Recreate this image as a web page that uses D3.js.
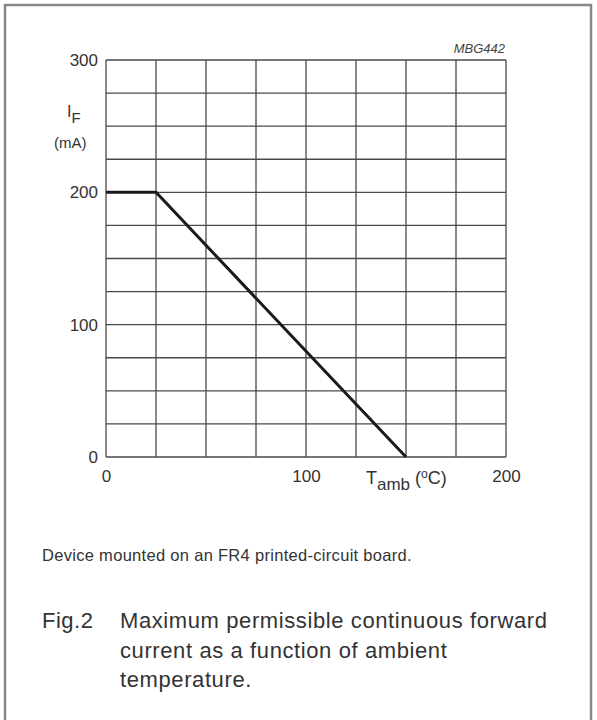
<!DOCTYPE html>
<html>
<head>
<meta charset="utf-8">
<script src="https://cdn.jsdelivr.net/npm/d3@7"></script>
<style>
  body { margin: 0; background: #fff; }
  svg { display: block; font-family: "Liberation Sans", Arial, sans-serif; }
</style>
</head>
<body>
<svg id="chart" width="597" height="720"></svg>
<script>
// chart values
var tempTicks = [0, 100, 200];
var currentTicks = [0, 100, 200, 300];
var tempGrid = [0, 25, 50, 75, 100, 125, 150, 175, 200];
var currentGrid = [0, 25, 50, 75, 100, 125, 150, 175, 200, 225, 250, 275, 300];
var curveTemp = [0, 25, 150];
var curveCurrent = [200, 200, 0];

var svg = d3.select("#chart");
var plot = { left: 106, top: 60, right: 506, bottom: 457 };

var x = d3.scaleLinear().domain([0, 200]).range([plot.left, plot.right]);
var y = d3.scaleLinear().domain([0, 300]).range([plot.bottom, plot.top]);

// frame round the figure
svg.append("rect")
  .attr("x", 5).attr("y", 5)
  .attr("width", 586).attr("height", 740)
  .attr("fill", "none")
  .attr("stroke", "#888")
  .attr("stroke-width", 2.5);

// grid
svg.append("g").selectAll("line")
  .data(tempGrid)
  .join("line")
  .attr("x1", function(d) { return x(d); })
  .attr("x2", function(d) { return x(d); })
  .attr("y1", y(0)).attr("y2", y(300))
  .attr("stroke", "#4a4a4a").attr("stroke-width", 1.3);

svg.append("g").selectAll("line")
  .data(currentGrid)
  .join("line")
  .attr("y1", function(d) { return y(d); })
  .attr("y2", function(d) { return y(d); })
  .attr("x1", x(0)).attr("x2", x(200))
  .attr("stroke", "#4a4a4a").attr("stroke-width", 1.3);

// tick labels
var yAxis = d3.axisLeft(y).tickValues(currentTicks).tickSize(0).tickPadding(8);
var gy = svg.append("g").attr("transform", "translate(" + plot.left + ",0)").call(yAxis);
gy.select(".domain").remove();
gy.selectAll("text").attr("font-size", 17).attr("fill", "#333").attr("font-family", null);

var xAxis = d3.axisBottom(x).tickValues(tempTicks).tickSize(0).tickPadding(13);
var gx = svg.append("g").attr("transform", "translate(0," + plot.bottom + ")").call(xAxis);
gx.select(".domain").remove();
gx.selectAll("text").attr("font-size", 17).attr("fill", "#333").attr("font-family", null);

// curve
var line = d3.line()
  .x(function(d, i) { return x(curveTemp[i]); })
  .y(function(d, i) { return y(curveCurrent[i]); });

svg.append("path")
  .datum(curveTemp)
  .attr("d", line)
  .attr("fill", "none")
  .attr("stroke", "#1a1a1a")
  .attr("stroke-width", 3);

// axis titles
var yt = svg.append("text").attr("x", 67).attr("y", 117).attr("font-size", 16).attr("fill", "#333");
yt.append("tspan").text("I");
yt.append("tspan").attr("dy", 6).attr("font-size", 15).text("F");

svg.append("text").attr("x", 54).attr("y", 148).attr("font-size", 15).attr("fill", "#333").text("(mA)");

var xt = svg.append("text").attr("x", 366).attr("y", 484).attr("font-size", 18).attr("fill", "#333");
xt.append("tspan").text("T");
xt.append("tspan").attr("dy", 6).attr("font-size", 17).text("amb");
xt.append("tspan").attr("dy", -6).text(" (");
xt.append("tspan").attr("dy", -6).attr("font-size", 12).text("o");
xt.append("tspan").attr("dy", 6).text("C)");

svg.append("text")
  .attr("x", 505).attr("y", 53)
  .attr("text-anchor", "end")
  .attr("font-size", 13).attr("font-style", "italic").attr("fill", "#444")
  .text("MBG442");

// notes and caption
svg.append("text").attr("x", 42).attr("y", 561)
  .attr("font-size", 16.5).attr("fill", "#333").attr("letter-spacing", 0.3)
  .text("Device mounted on an FR4 printed-circuit board.");

svg.append("text").attr("x", 42).attr("y", 628)
  .attr("font-size", 22).attr("fill", "#333").attr("letter-spacing", 0.5).text("Fig.2");

var captionLines = ["Maximum permissible continuous forward", "current as a function of ambient", "temperature."];
svg.append("g").selectAll("text")
  .data(captionLines)
  .join("text")
  .attr("x", 120)
  .attr("y", function(d, i) { return 628 + i * 29.5; })
  .attr("font-size", 22).attr("fill", "#333").attr("letter-spacing", 0.6)
  .text(function(d) { return d; });
</script>
</body>
</html>
